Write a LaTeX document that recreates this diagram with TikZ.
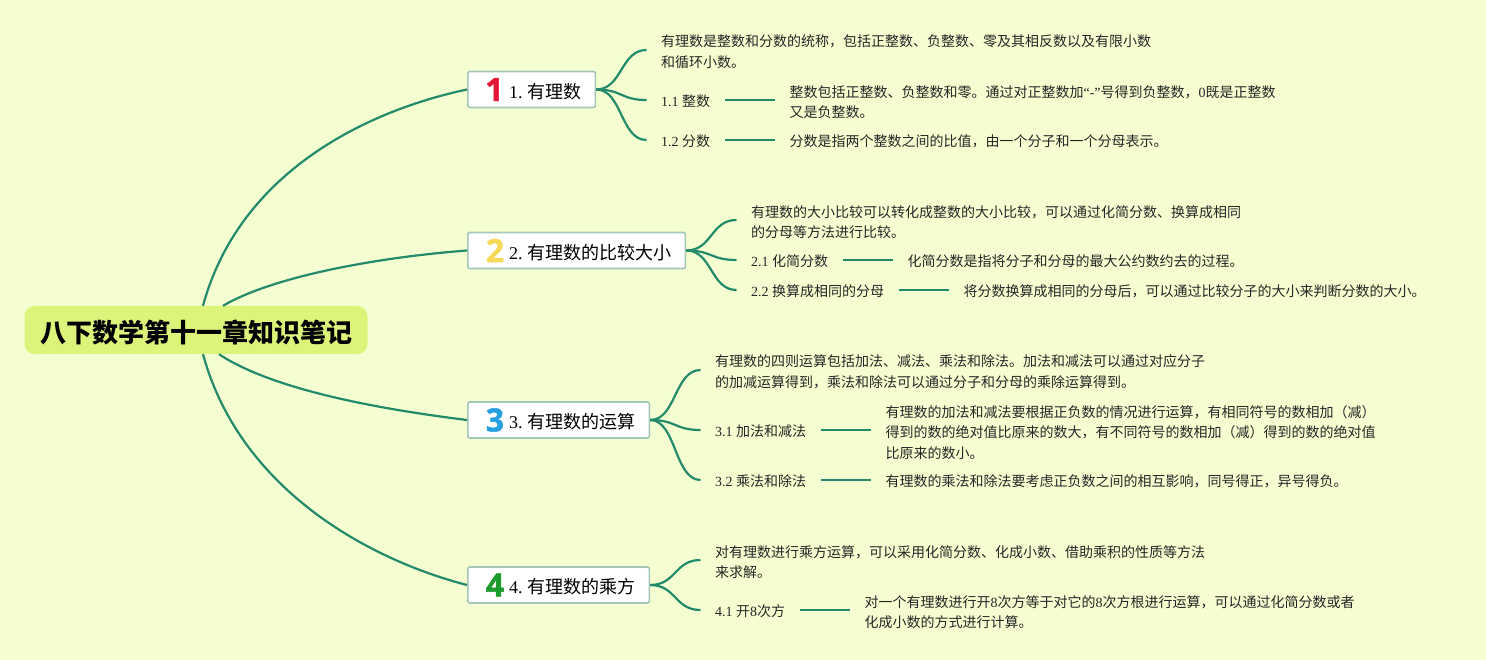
\documentclass[tikz,border=0pt]{standalone}
\usepackage{fontspec}
\usepackage{xcolor}
\usetikzlibrary{positioning}
\setmainfont{Noto Sans CJK SC}
\newfontfamily\latfont{Liberation Serif}
\newfontfamily\iconfont{Open Sans}[BoldFeatures={FakeBold=1.5}]
\newcommand{\lat}[1]{{\latfont #1}}
\newcommand{\topictext}[2]{\hspace*{27.5pt}\lat{#1. }\hspace{-1pt}#2}
\definecolor{paper}{HTML}{F5FED0}
\definecolor{rootfill}{HTML}{DDF47A}
\definecolor{branchline}{HTML}{238A6A}
\definecolor{topicline}{HTML}{A3C6B6}
\tikzset{
  root/.style={fill=rootfill,rounded corners=10pt,minimum height=48pt,inner xsep=15.5pt,inner ysep=0pt,text height=25pt,text depth=.2pt,font=\fontsize{26}{30}\selectfont\bfseries},
  topic/.style={draw=topicline,fill=white,line width=1.6pt,rounded corners=2pt,anchor=west,minimum height=36pt,inner xsep=13.8pt,inner ysep=0pt,text height=18pt,text depth=.4pt,font=\fontsize{18}{22}\selectfont},
  leaf/.style={align=left,inner xsep=14.5pt,inner ysep=0pt,font=\fontsize{14}{20.6}\selectfont,text=black!85},
  item/.style={leaf,anchor=west},
  detail/.style={leaf,right=50pt of #1},
  numicon/.style={inner sep=0pt,font=\fontsize{32}{32}\selectfont\iconfont\bfseries},
  branch/.style={draw=branchline,line width=2.2pt},
}
\begin{document}
\begin{tikzpicture}[x=1pt,y=-1pt]
\useasboundingbox[fill=paper] (0,0) rectangle (1486,660);
\node[root] (root) at (196,330) {八下数学第十一章知识笔记};
\node[topic] (t1) at (467,89.5) {\topictext{1}{有理数}};
\node[topic] (t2) at (467,250.5) {\topictext{2}{有理数的比较大小}};
\node[topic] (t3) at (467,420) {\topictext{3}{有理数的运算}};
\node[topic] (t4) at (467,585) {\topictext{4}{有理数的乘方}};
\node[numicon,text={rgb,255:red,226;green,24;blue,54}] (n1) at ([xshift=27.5pt]t1.west) {1};
\node[numicon,text={rgb,255:red,246;green,217;blue,88}] (n2) at ([xshift=28pt]t2.west) {2};
\node[numicon,text={rgb,255:red,38;green,160;blue,224}] (n3) at ([xshift=28pt]t3.west) {3};
\node[numicon,text={rgb,255:red,28;green,154;blue,44}] (n4) at ([xshift=28pt]t4.west) {4};

\node[item] (a1) at (646.5,52) {有理数是整数和分数的统称，包括正整数、负整数、零及其相反数以及有限小数\\和循环小数。};
\node[item] (b1) at (646.5,101) {\lat{1.1 }整数};
\node[detail=b1,yshift=-1pt] (c1) {整数包括正整数、负整数和零。通过对正整数加\lat{“-”}号得到负整数，\lat{0}既是正整数\\又是负整数。};
\node[item] (b2) at (646.5,141) {\lat{1.2 }分数};
\node[detail=b2] (c2) {分数是指两个整数之间的比值，由一个分子和一个分母表示。};

\node[item] (a2) at (736.5,222) {有理数的大小比较可以转化成整数的大小比较，可以通过化简分数、换算成相同\\的分母等方法进行比较。};
\node[item] (b3) at (736.5,261) {\lat{2.1 }化简分数};
\node[detail=b3] (c3) {化简分数是指将分子和分母的最大公约数约去的过程。};
\node[item] (b4) at (736.5,291) {\lat{2.2 }换算成相同的分母};
\node[detail=b4] (c4) {将分数换算成相同的分母后，可以通过比较分子的大小来判断分数的大小。};

\node[item] (a3) at (700.5,372) {有理数的四则运算包括加法、减法、乘法和除法。加法和减法可以通过对应分子\\的加减运算得到，乘法和除法可以通过分子和分母的乘除运算得到。};
\node[item] (b5) at (700.5,431) {\lat{3.1 }加法和减法};
\node[detail=b5,yshift=-1.5pt] (c5) {有理数的加法和减法要根据正负数的情况进行运算，有相同符号的数相加（减）\\得到的数的绝对值比原来的数大，有不同符号的数相加（减）得到的数的绝对值\\比原来的数小。};
\node[item] (b6) at (700.5,481) {\lat{3.2 }乘法和除法};
\node[detail=b6] (c6) {有理数的乘法和除法要考虑正负数之间的相互影响，同号得正，异号得负。};

\node[item] (a4) at (700.5,562) {对有理数进行乘方运算，可以采用化简分数、化成小数、借助乘积的性质等方法\\来求解。};
\node[item] (b7) at (700.5,611) {\lat{4.1 }开\lat{8}次方};
\node[detail=b7,yshift=-1pt] (c7) {对一个有理数进行开\lat{8}次方等于对它的\lat{8}次方根进行运算，可以通过化简分数或者\\化成小数的方式进行计算。};

\draw[branch] ([xshift=7pt]root.north) .. controls (240,170) and (370,110) .. (t1.west);
\draw[branch] ([xshift=27pt]root.north) .. controls (270,278) and (370,258) .. (t2.west);
\draw[branch] ([xshift=23pt]root.south) .. controls (270,388) and (370,408) .. (t3.west);
\draw[branch] ([xshift=7pt]root.south) .. controls (240,490) and (370,560) .. (t4.west);
\foreach \from/\to in {t1/a1,t2/a2,t3/a3,t4/a4}
  \draw[branch] (\from.east) .. controls +(26,0) and +(-26,0) .. ([yshift=2pt]\to.west);
\foreach \from/\to in {t1/b1,t1/b2,t2/b3,t2/b4,t3/b5,t3/b6,t4/b7}
  \draw[branch] (\from.east) .. controls +(26,0) and +(-26,0) .. ([yshift=1pt]\to.west);
\foreach \i in {1,...,7}
  \draw[branch] ([yshift=1pt]b\i.east) -- ([yshift=1pt]b\i.east -| c\i.west);
\end{tikzpicture}
\end{document}
